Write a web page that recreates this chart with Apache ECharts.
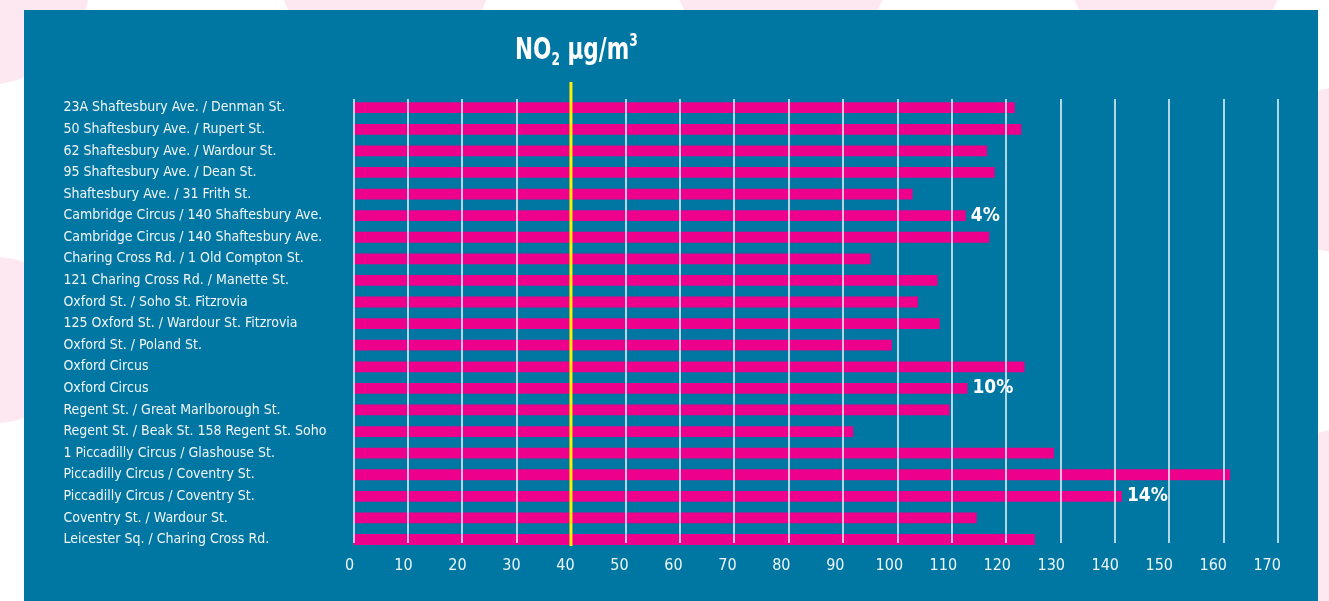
<!DOCTYPE html>
<html>
<head>
<meta charset="utf-8">
<script src="https://cdn.jsdelivr.net/npm/echarts@6/dist/echarts.min.js"></script>
<style>
html,body{margin:0;padding:0;background:#fff;}
#c{width:1329px;height:601px;}
</style>
</head>
<body>
<div id="c"></div>
<script>
// ---- data ----
const categories = [
  '23A Shaftesbury Ave. / Denman St.',
  '50 Shaftesbury Ave. / Rupert St.',
  '62 Shaftesbury Ave. / Wardour St.',
  '95 Shaftesbury Ave. / Dean St.',
  'Shaftesbury Ave. / 31 Frith St.',
  'Cambridge Circus / 140 Shaftesbury Ave.',
  'Cambridge Circus / 140 Shaftesbury Ave.',
  'Charing Cross Rd. / 1 Old Compton St.',
  '121 Charing Cross Rd. / Manette St.',
  'Oxford St. / Soho St. Fitzrovia',
  '125 Oxford St. / Wardour St. Fitzrovia',
  'Oxford St. / Poland St.',
  'Oxford Circus',
  'Oxford Circus',
  'Regent St. / Great Marlborough St.',
  'Regent St. / Beak St. 158 Regent St. Soho',
  '1 Piccadilly Circus / Glashouse St.',
  'Piccadilly Circus / Coventry St.',
  'Piccadilly Circus / Coventry St.',
  'Coventry St. / Wardour St.',
  'Leicester Sq. / Charing Cross Rd.'
];
const no2Values = [121.6, 122.8, 116.5, 117.9, 102.8, 112.6, 116.9, 95.1, 107.4, 103.8, 107.8,
                   99.0, 123.4, 112.9, 109.6, 91.9, 128.8, 161.2, 141.3, 114.6, 125.3];
const annotations = ['', '', '', '', '', '4%', '', '', '', '', '', '', '', '10%', '', '', '', '', '14%', '', ''];
const limitValue = 40;
const axisMin = 0, axisMax = 170, axisStep = 10;

// ---- styles ----
const FONT = '"Liberation Sans Narrow", "DejaVu Sans Condensed", "Roboto", sans-serif';
const BLUE = '#0077a3';
const PINK = '#ec008c';
const DECO = '#fde8f1';
const W = 1329, H = 601;

const chart = echarts.init(document.getElementById('c'), null, {renderer: 'canvas'});

const barData = no2Values.map((v, i) => {
  const d = {value: v};
  if (annotations[i]) {
    d.label = {show: true, position: 'right', distance: 5, formatter: annotations[i],
      color: '#ffffff', fontFamily: FONT, fontWeight: 'bold', fontSize: 19};
  }
  return d;
});

const deco = [
  {cx: -15, cy: -20, r: 105},
  {cx: 385, cy: -40, r: 109},
  {cx: 781, cy: -40, r: 109},
  {cx: 1176, cy: -40, r: 109},
  {cx: -5, cy: 340, r: 83},
  {cx: 1338, cy: 170, r: 82},
  {cx: 1340, cy: 530, r: 100}
].map(c => ({type: 'circle', z: -20, silent: true, shape: c, style: {fill: DECO}}));

const titleText = {
  type: 'text', z: 10, silent: true,
  x: 515, y: 33, scaleX: 0.8, scaleY: 1,
  style: {
    text: '{n|NO}{s|2}{n| µg/m}{p|3}',
    fill: '#fff',
    rich: {
      n: {fontFamily: FONT, fontWeight: 'bold', fontSize: 30, fill: '#fff', lineHeight: 36, verticalAlign: 'middle'},
      s: {fontFamily: FONT, fontWeight: 'bold', fontSize: 17, fill: '#fff', lineHeight: 17, verticalAlign: 'bottom'},
      p: {fontFamily: FONT, fontWeight: 'bold', fontSize: 17, fill: '#fff', lineHeight: 17, verticalAlign: 'top'}
    }
  }
};

const option = {
  backgroundColor: '#ffffff',
  animation: false,
  graphic: deco.concat([
    {type: 'rect', z: -10, silent: true, shape: {x: 24, y: 10, width: 1294, height: 591}, style: {fill: BLUE}},
    titleText
  ]),
  grid: [
    // bars
    {left: 353.4, right: W - 1278, top: 96.9, bottom: H - 550.3},
    // gridlines
    {left: 353.4, right: W - 1278, top: 99, bottom: H - 543},
    // tick labels
    {left: 349.5, right: W - 1267.2, top: 99, bottom: H - 543},
    // limit line
    {left: 353.4, right: W - 1278, top: 82, bottom: H - 546}
  ],
  xAxis: [
    {gridIndex: 0, type: 'value', min: axisMin, max: axisMax, interval: axisStep, show: false},
    {gridIndex: 1, type: 'value', min: axisMin, max: axisMax, interval: axisStep, z: 4,
      axisLine: {show: false}, axisTick: {show: false}, axisLabel: {show: false},
      splitLine: {show: true, lineStyle: {color: 'rgba(235,245,250,0.95)', width: 1.6}}},
    {gridIndex: 2, type: 'value', min: axisMin, max: axisMax, interval: axisStep,
      axisLine: {show: false}, axisTick: {show: false}, splitLine: {show: false},
      axisLabel: {show: true, color: '#eef5f9', fontFamily: FONT, fontSize: 16, margin: 15}},
    {gridIndex: 3, type: 'value', min: axisMin, max: axisMax, show: false}
  ],
  yAxis: [
    {gridIndex: 0, type: 'category', data: categories, inverse: true,
      axisLine: {show: false}, axisTick: {show: false}, splitLine: {show: false},
      axisLabel: {show: true, align: 'left', margin: 290, color: '#f2f6f9', fontFamily: FONT, fontSize: 14, interval: 0}},
    {gridIndex: 1, type: 'value', show: false},
    {gridIndex: 2, type: 'value', show: false},
    {gridIndex: 3, type: 'value', min: 0, max: 1, show: false}
  ],
  series: [
    {type: 'bar', xAxisIndex: 0, yAxisIndex: 0, data: barData, barWidth: '50%', z: 2,
      itemStyle: {color: PINK}, label: {show: false}},
    {type: 'line', xAxisIndex: 3, yAxisIndex: 3, z: 6, symbol: 'none',
      data: [[limitValue, 0], [limitValue, 1]],
      lineStyle: {color: '#fff000', width: 3}}
  ]
};
chart.setOption(option);
</script>
</body>
</html>
